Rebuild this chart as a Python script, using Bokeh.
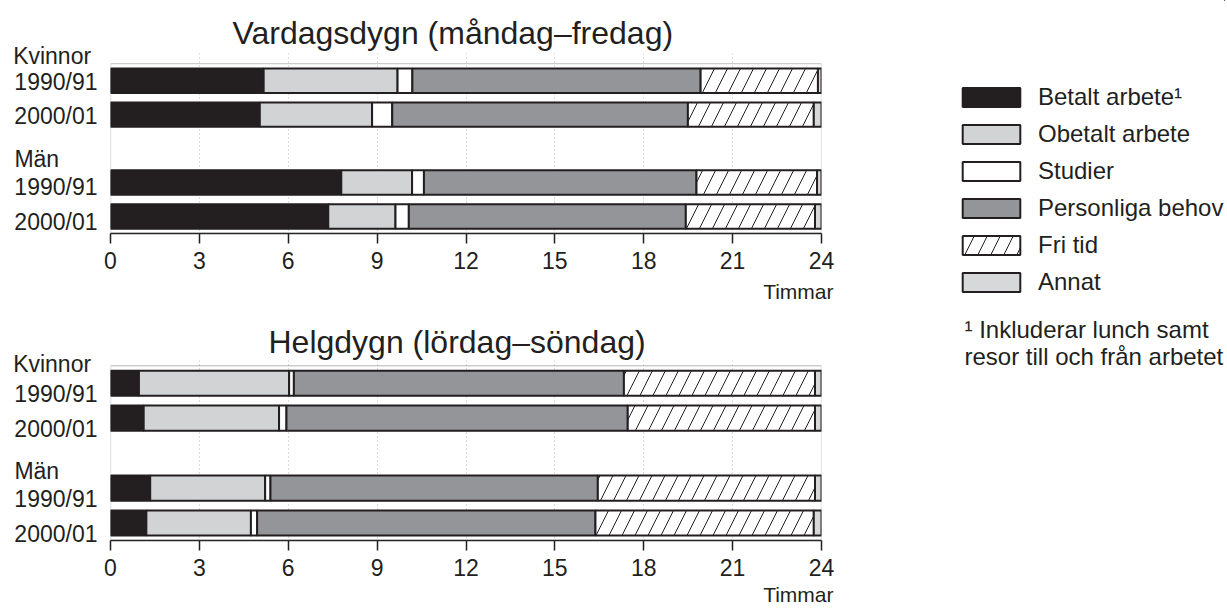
import numpy as np
from bokeh.plotting import figure
from bokeh.layouts import column, row
from bokeh.models import (Range1d, FixedTicker, Legend, LegendItem, Title,
                          BoxAnnotation, Label)
from bokeh.embed import file_html
from bokeh.resources import INLINE

# ---------------- data ----------------
activities = ["Betalt arbete\u00b9", "Obetalt arbete", "Studier",
              "Personliga behov", "Fri tid", "Annat"]
group_labels = ["Kvinnor", "Män"]
period_labels = ["1990/91", "2000/01"]
hour_ticks = [0, 3, 6, 9, 12, 15, 18, 21, 24]
axis_title = "Timmar"
titles = ["Vardagsdygn (måndag–fredag)", "Helgdygn (lördag–söndag)"]
footnote = ["\u00b9 Inkluderar lunch samt", "resor till och från arbetet"]

# hours per activity; order: Kvinnor 1990/91, Kvinnor 2000/01, Män 1990/91, Män 2000/01
weekday_betalt     = [5.17, 5.04, 7.79, 7.35]
weekday_obetalt    = [4.52, 3.79, 2.39, 2.27]
weekday_studier    = [0.50, 0.68, 0.40, 0.45]
weekday_personliga = [9.73, 9.98, 9.20, 9.35]
weekday_fritid     = [3.96, 4.25, 4.07, 4.36]
weekday_annat      = [0.12, 0.26, 0.15, 0.22]

weekend_betalt     = [0.96, 1.12, 1.34, 1.21]
weekend_obetalt    = [5.07, 4.57, 3.88, 3.53]
weekend_studier    = [0.16, 0.25, 0.18, 0.21]
weekend_personliga = [11.14, 11.52, 11.05, 11.42]
weekend_fritid     = [6.45, 6.32, 7.33, 7.37]
weekend_annat      = [0.22, 0.22, 0.22, 0.26]

weekday = [weekday_betalt, weekday_obetalt, weekday_studier,
           weekday_personliga, weekday_fritid, weekday_annat]
weekend = [weekend_betalt, weekend_obetalt, weekend_studier,
           weekend_personliga, weekend_fritid, weekend_annat]

# ---------------- styles / layout ----------------
FONT = "Liberation Sans"
INK = "#231f20"
fills = [INK, "#d1d3d4", "#ffffff", "#939598", "#ffffff", "#d7d8da"]
hatches = [None, None, None, None, "/", None]
HATCH_SCALE = 26
row_slots = [0, 1, 3, 4]           # bar rows (gap between women and men)
NBSP = "\u00a0"
# row-label texts (padded so the right-aligned axis labels start at the same x)
row_texts = [group_labels[0] + NBSP, period_labels[0], period_labels[1],
             group_labels[1] + NBSP * 6, period_labels[0], period_labels[1]]
top_label_pos = [-0.733, 0.03, 1.03, 2.31, 3.12, 4.15]
bot_label_pos = [-0.56, 0.31, 1.30, 2.51, 3.31, 4.32]

CW = 840          # chart column width (frame 110..821)
LW = 385          # legend column width


def bar_style(fc, hp):
    kw = dict(fill_color=fc, line_color=INK, line_width=2)
    if hp:
        kw.update(hatch_pattern=hp, hatch_color=INK, hatch_scale=HATCH_SCALE,
                  hatch_weight=1)
    return kw


def draw_bars(p, series):
    left = np.zeros(len(row_slots))
    for vals, fc, hp in zip(series, fills, hatches):
        v = np.array(vals)
        p.hbar(y=row_slots, left=left.copy(), right=left + v, height=0.72,
               **bar_style(fc, hp))
        left = left + v


def make_panel(series, title, H, top, bottom, y_top, label_pos, title_left,
               title_standoff, timmar_standoff):
    p = figure(width=CW, height=H, x_range=Range1d(0, 24), y_range=Range1d(4.5, y_top),
               output_backend="svg", toolbar_location=None, title=title,
               min_border_left=110, min_border_right=CW - 821,
               min_border_top=top, min_border_bottom=bottom)
    p.outline_line_color = None
    p.background_fill_color = "white"
    p.border_fill_color = "white"

    t = p.title
    t.text_font = FONT
    t.text_font_size = "32px"
    t.text_font_style = "normal"
    t.text_color = INK
    t.align = "left"
    t.offset = title_left
    t.standoff = title_standoff

    ax = p.xaxis[0]
    ax.ticker = FixedTicker(ticks=hour_ticks)
    ax.axis_line_color = INK
    ax.axis_line_width = 1.5
    ax.major_tick_line_color = INK
    ax.major_tick_line_width = 1.5
    ax.major_tick_in = 0
    ax.major_tick_out = 10
    ax.minor_tick_line_color = None
    ax.major_label_text_font = FONT
    ax.major_label_text_font_size = "23px"
    ax.major_label_text_color = INK
    ax.major_label_standoff = 8

    unit = Title(text=axis_title, align="right", offset=-12, standoff=timmar_standoff,
                 text_font=FONT, text_font_size="21px", text_font_style="normal",
                 text_color=INK)
    p.add_layout(unit, "below")

    yax = p.yaxis[0]
    yax.ticker = FixedTicker(ticks=label_pos)
    yax.major_label_overrides = {pos: txt for pos, txt in zip(label_pos, row_texts)}
    yax.axis_line_color = None
    yax.major_tick_line_color = None
    yax.major_tick_in = 0
    yax.major_tick_out = 0
    yax.minor_tick_line_color = None
    yax.major_label_text_font = FONT
    yax.major_label_text_font_size = "23px"
    yax.major_label_text_color = INK
    yax.major_label_standoff = 13

    p.xgrid.ticker = FixedTicker(ticks=hour_ticks)
    p.xgrid.grid_line_color = "#b8b8b8"
    p.xgrid.grid_line_dash = "1 3"
    p.ygrid.grid_line_color = None

    draw_bars(p, series)

    p.add_layout(BoxAnnotation(left=0, right=24, top=-0.5, bottom=4.5,
                               fill_color=None, line_color="#555555", line_width=1.3))
    return p


# top panel: page y 0..308, frame top 53, axis line at 237
p1 = make_panel(weekday, titles[0], 308, 53, 71, -0.8, top_label_pos, 122, 4.5, 12)
# bottom panel: page y 308..608, frame top 360, axis line at 540
p2 = make_panel(weekend, titles[1], 300, 52, 68, -0.65, bot_label_pos, 158, 2, 5)

# ---------------- legend column ----------------
lf = figure(width=LW, height=608, x_range=Range1d(0, 1), y_range=Range1d(0, 1),
            x_axis_location=None, y_axis_location=None, toolbar_location=None,
            output_backend="svg", min_border=0)
lf.outline_line_color = None
lf.background_fill_color = "white"
lf.border_fill_color = "white"
lf.grid.visible = False

# legend proxies: one bar per activity, kept far outside the visible range
swatches = [lf.hbar(y=[50], left=[50], right=[51], height=1, **bar_style(fc, hp))
            for fc, hp in zip(fills, hatches)]

legend = Legend(items=[LegendItem(label=a, renderers=[r]) for a, r in zip(activities, swatches)],
                location=(115, 312), orientation="vertical",
                glyph_width=72, glyph_height=24, label_height=19, label_standoff=11,
                spacing=9, padding=0, margin=0, border_line_color=None,
                background_fill_alpha=0, label_text_font=FONT,
                label_text_font_size="24px", label_text_color=INK)
lf.add_layout(legend)

for txt, base in zip(footnote, [329.3, 356.0]):
    lf.add_layout(Label(x=124, y=608 - base, x_units="screen", y_units="screen",
                        text=txt, text_font=FONT, text_font_size="24px",
                        text_color=INK, text_baseline="alphabetic"))

layout = row(column(p1, p2, spacing=0), lf, spacing=0)
open("out.html", "w").write(file_html(layout, INLINE))
